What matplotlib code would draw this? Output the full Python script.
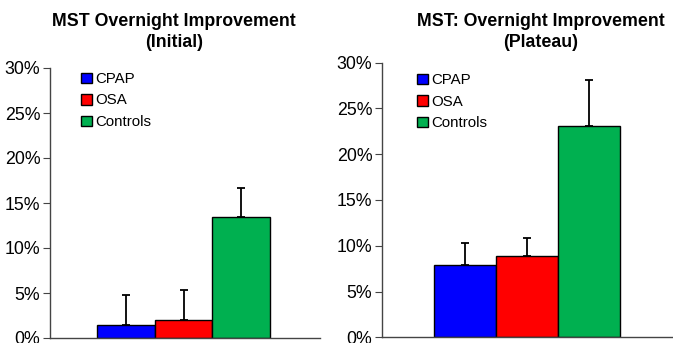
import matplotlib
matplotlib.use("Agg")
import matplotlib.pyplot as plt
from matplotlib.ticker import PercentFormatter
from matplotlib.patches import Patch

groups = ["CPAP", "OSA", "Controls"]
colors = ["#0000FF", "#FF0000", "#00B050"]

initial_vals = [1.4, 2.0, 13.4]
initial_err = [3.35, 3.3, 3.3]
plateau_vals = [7.9, 8.9, 23.1]
plateau_err = [2.45, 1.95, 5.0]

titles = ["MST Overnight Improvement\n(Initial)", "MST: Overnight Improvement\n(Plateau)"]
yticks = [0, 5, 10, 15, 20, 25, 30]

plt.rcParams['font.family'] = ['Liberation Sans', 'DejaVu Sans']

fig = plt.figure(figsize=(6.73, 3.43), dpi=100)
W, H = 673, 343

def make_ax(x0, x1, ytop, ybot):
    return fig.add_axes([x0 / W, (H - ybot) / H, (x1 - x0) / W, (ybot - ytop) / H])

axL = make_ax(50, 320, 68, 338)
axR = make_ax(382, 673, 62.7, 337.3)

setups = [
    (axL, initial_vals, initial_err, titles[0], (-1.315, 3.367), 174, (81, 80)),
    (axR, plateau_vals, plateau_err, titles[1], (-1.339, 3.355), 541, (417, 81)),
]

for ax, vals, errs, title, xlim, tx, leg in setups:
    xs = list(range(len(groups)))
    ax.bar(xs, vals, width=1.0, color=colors, edgecolor="black", linewidth=1.0, zorder=2)
    ax.errorbar(xs, vals, yerr=[[0] * len(vals), errs], fmt="none", ecolor="black",
                elinewidth=1.3, capsize=3, capthick=1.3, zorder=1)
    ax.set_xlim(*xlim)
    ax.set_ylim(0, 30)
    ax.set_yticks(yticks)
    ax.yaxis.set_major_formatter(PercentFormatter(decimals=0))
    ax.tick_params(axis="y", direction="out", length=5, labelsize=12.8, pad=2, color="#444444")
    ax.tick_params(axis="x", bottom=False, labelbottom=False)
    for s in ["top", "right"]:
        ax.spines[s].set_visible(False)
    for s in ["left", "bottom"]:
        ax.spines[s].set_color("#444444")
        ax.spines[s].set_linewidth(1.0)
    fig.text(tx / W, 1 - 32 / H, title, ha="center", va="center", fontsize=12.8,
             fontweight="bold", linespacing=1.3)
    handles = [Patch(facecolor=c, edgecolor="black", linewidth=1.0) for c in colors]
    lx, ly = leg
    ax.legend(handles, groups, loc="upper left",
              bbox_to_anchor=(lx / W, 1 - (ly - 8) / H), bbox_transform=fig.transFigure,
              frameon=False, fontsize=10.8, handlelength=0.7, handleheight=0.7,
              handletextpad=0.25, labelspacing=0.5, borderpad=0.0, borderaxespad=0.0)

fig.savefig("out.png", dpi=100)
